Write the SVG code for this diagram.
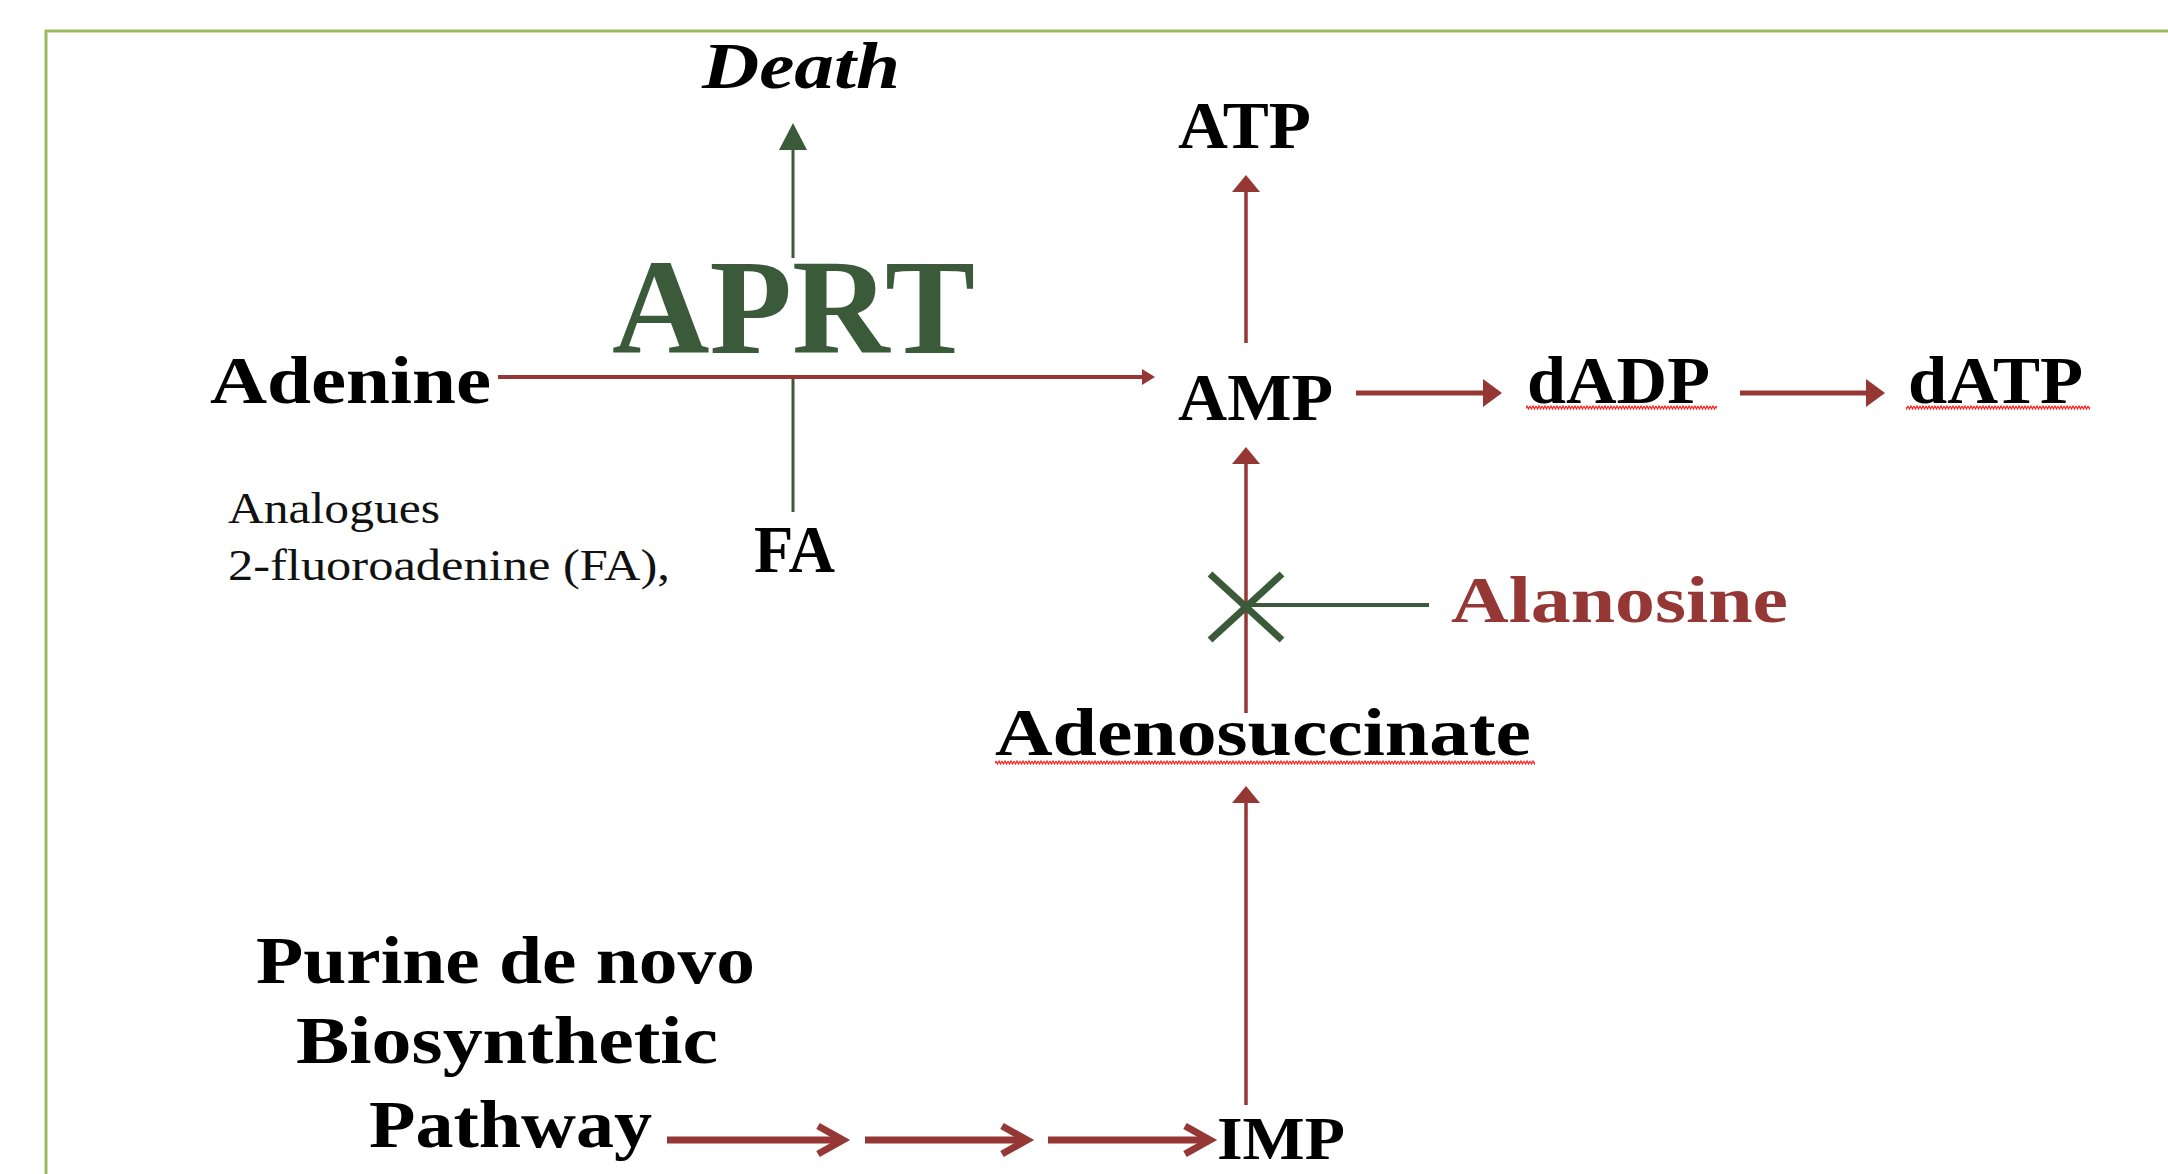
<svg xmlns="http://www.w3.org/2000/svg" width="2168" height="1174" viewBox="0 0 2168 1174">
  <style>
    .lbl { font-family: "Liberation Serif", "DejaVu Serif", serif; font-weight: bold; fill: #000; }
    .big { font-size: 68px; }
    .small { font-family: "Liberation Serif", "DejaVu Serif", serif; font-size: 45px; fill: #111; }
    .red { stroke: #953735; fill: none; }
    .redfill { fill: #953735; stroke: none; }
    .green { stroke: #3b5a39; fill: none; }
    .greenfill { fill: #3b5a39; stroke: none; }
  </style>
  <defs>
    <pattern id="wave" width="6" height="5" patternUnits="userSpaceOnUse">
      <polyline points="0,1 1.5,4 3,1 4.5,4 6,1" fill="none" stroke="#ff2020" stroke-width="1.2"/>
    </pattern>
  </defs>
  <rect width="2168" height="1174" fill="#ffffff"/>
  <rect x="46" y="31" width="2200" height="1200" fill="none" stroke="#9bbb59" stroke-width="3"/>

  <g id="connectors">
    <!-- APRT: Adenine -> AMP, with Death arrow and FA line -->
    <line class="green" x1="793" y1="258" x2="793" y2="148" stroke-width="3"/>
    <polygon class="greenfill" points="793,123 779,150 807,150"/>
    <line class="green" x1="793" y1="378" x2="793" y2="512" stroke-width="3"/>
    <line class="red" x1="498" y1="377" x2="1146" y2="377" stroke-width="4"/>
    <polygon class="redfill" points="1155,377 1142,369 1142,385"/>
    <!-- AMP -> ATP -->
    <line class="red" x1="1246" y1="343" x2="1246" y2="190" stroke-width="3.5"/>
    <polygon class="redfill" points="1246,175 1232,192 1260,192"/>
    <!-- AMP -> dADP -->
    <line class="red" x1="1356" y1="393" x2="1486" y2="393" stroke-width="5"/>
    <polygon class="redfill" points="1502,393 1483,379 1483,407"/>
    <!-- dADP -> dATP -->
    <line class="red" x1="1740" y1="393" x2="1869" y2="393" stroke-width="5"/>
    <polygon class="redfill" points="1885,393 1866,379 1866,407"/>
    <!-- Adenosuccinate -> AMP -->
    <line class="red" x1="1246" y1="713" x2="1246" y2="462" stroke-width="3.5"/>
    <polygon class="redfill" points="1246,447 1232,464 1260,464"/>
    <!-- IMP -> Adenosuccinate -->
    <line class="red" x1="1246" y1="1105" x2="1246" y2="801" stroke-width="3.5"/>
    <polygon class="redfill" points="1246,786 1232,803 1260,803"/>
    <!-- Alanosine inhibition -->
    <line class="green" x1="1246" y1="605" x2="1429" y2="605" stroke-width="4"/>
    <line class="green" x1="1210" y1="574" x2="1282" y2="640" stroke-width="7"/>
    <line class="green" x1="1282" y1="574" x2="1210" y2="640" stroke-width="7"/>
    <!-- de novo pathway arrows -->
    <line class="red" x1="667" y1="1140" x2="842" y2="1140" stroke-width="7"/>
    <polyline class="red" points="818,1126 843,1140 818,1154" stroke-width="7"/>
    <line class="red" x1="865" y1="1140" x2="1026" y2="1140" stroke-width="7"/>
    <polyline class="red" points="1002,1126 1027,1140 1002,1154" stroke-width="7"/>
    <line class="red" x1="1048" y1="1140" x2="1209" y2="1140" stroke-width="7"/>
    <polyline class="red" points="1185,1126 1210,1140 1185,1154" stroke-width="7"/>
  </g>

  <g id="node-death">
    <text class="lbl" x="702" y="88" font-size="65" font-style="italic" textLength="198" lengthAdjust="spacingAndGlyphs">Death</text>
  </g>
  <g id="node-aprt">
    <text x="612" y="353" font-family="Liberation Serif, DejaVu Serif, serif" font-weight="bold" font-size="136" fill="#3b5a39" textLength="363" lengthAdjust="spacingAndGlyphs">APRT</text>
  </g>
  <g id="node-adenine">
    <text class="lbl big" x="210" y="403" textLength="281" lengthAdjust="spacingAndGlyphs">Adenine</text>
  </g>
  <g id="node-analogues">
    <text class="small" x="228" y="523" textLength="212" lengthAdjust="spacingAndGlyphs">Analogues</text>
    <text class="small" x="228" y="580" textLength="442" lengthAdjust="spacingAndGlyphs">2-fluoroadenine (FA),</text>
  </g>
  <g id="node-fa">
    <text class="lbl big" x="754" y="572" textLength="81" lengthAdjust="spacingAndGlyphs">FA</text>
  </g>
  <g id="node-atp">
    <text class="lbl big" x="1178" y="148" textLength="133" lengthAdjust="spacingAndGlyphs">ATP</text>
  </g>
  <g id="node-amp">
    <text class="lbl big" x="1178" y="420" textLength="155" lengthAdjust="spacingAndGlyphs">AMP</text>
  </g>
  <g id="node-dadp">
    <text class="lbl big" x="1527" y="403" textLength="183" lengthAdjust="spacingAndGlyphs">dADP</text>
    <rect x="1526" y="405" width="191" height="5" fill="url(#wave)"/>
  </g>
  <g id="node-datp">
    <text class="lbl big" x="1908" y="403" textLength="175" lengthAdjust="spacingAndGlyphs">dATP</text>
    <rect x="1906" y="405" width="184" height="5" fill="url(#wave)"/>
  </g>
  <g id="node-alanosine">
    <text x="1451" y="622" font-family="Liberation Serif, DejaVu Serif, serif" font-weight="bold" font-size="66" fill="#953735" textLength="337" lengthAdjust="spacingAndGlyphs">Alanosine</text>
  </g>
  <g id="node-adenosuccinate">
    <text class="lbl big" x="995" y="755" textLength="536" lengthAdjust="spacingAndGlyphs">Adenosuccinate</text>
    <rect x="995" y="760" width="540" height="5" fill="url(#wave)"/>
  </g>
  <g id="node-purine">
    <text class="lbl big" x="256" y="983" textLength="499" lengthAdjust="spacingAndGlyphs">Purine de novo</text>
    <text class="lbl big" x="296" y="1063" textLength="422" lengthAdjust="spacingAndGlyphs">Biosynthetic</text>
    <text class="lbl big" x="369" y="1147" textLength="283" lengthAdjust="spacingAndGlyphs">Pathway</text>
  </g>
  <g id="node-imp">
    <text class="lbl" x="1217" y="1159" font-size="62" textLength="128" lengthAdjust="spacingAndGlyphs">IMP</text>
  </g>
</svg>
